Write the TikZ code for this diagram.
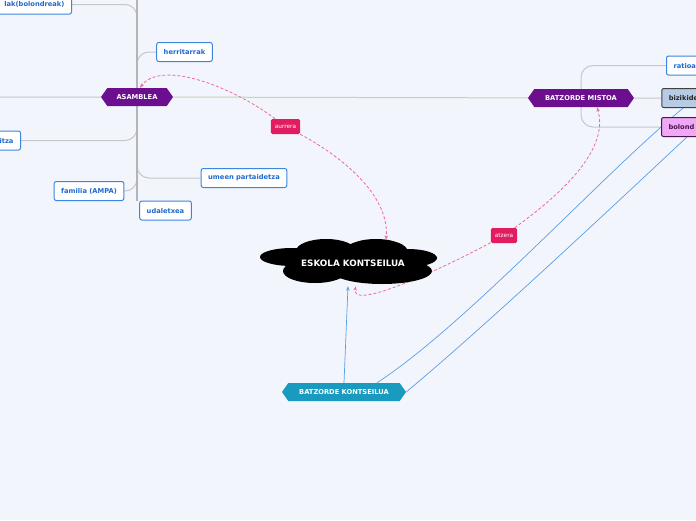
\documentclass[tikz,border=0pt]{standalone}
\usepackage{fontspec}
\setmainfont{DejaVu Sans}
\usepackage{tikz}
\usetikzlibrary{arrows.meta,positioning,calc,shapes.symbols}
\pgfdeclarelayer{back}
\pgfdeclarelayer{bg}
\pgfsetlayers{back,bg,main}
\usepackage{xcolor}
\definecolor{paper}{HTML}{F3F5FD}
\definecolor{boxblue}{HTML}{3A86E0}
\definecolor{textblue}{HTML}{1F6AD0}
\definecolor{purp}{HTML}{6B0F8F}
\definecolor{tealc}{HTML}{189BBF}
\definecolor{branchgray}{HTML}{C6C7CC}
\definecolor{trunkgray}{HTML}{B4B4B8}
\definecolor{greenline}{HTML}{C2D8B0}
\definecolor{wireblue}{HTML}{5A9EE8}
\definecolor{linkpink}{HTML}{EE6A9C}
\definecolor{tagred}{HTML}{E31C5F}
\definecolor{bizifill}{HTML}{B8CBE4}
\definecolor{bolofill}{HTML}{F0A8F6}
\definecolor{bolotext}{HTML}{4A1550}

\begin{document}
\begin{tikzpicture}[
  x=1pt, y=-1pt,
  font=\fontsize{6.7}{8}\selectfont\bfseries,
  box/.style={draw=boxblue, fill=white, rounded corners=2pt, line width=1pt, text=textblue, minimum height=19pt, inner xsep=7pt},
  hexa/.style={signal, signal to=east and west, signal pointer angle=110, fill=#1, text=white, minimum height=18pt, inner sep=0pt, font=\fontsize{6.7}{7}\selectfont\bfseries},
  branch/.style={draw=branchgray, line width=1pt, rounded corners=12pt},
  trunk/.style={draw=trunkgray, line width=2.5pt},
  link/.style={draw=linkpink, line width=0.8pt, dash pattern=on 3pt off 2pt, -{Stealth[length=4.5pt]}},
  tag/.style={fill=tagred, text=white, rounded corners=1.5pt, font=\fontsize{5.8}{6}\selectfont, minimum height=15pt, inner xsep=4pt},
  wire/.style={draw=wireblue, line width=0.7pt}
]
\useasboundingbox (0,0) rectangle (696,520);
\begin{pgfonlayer}{back}
\fill[paper] (0,0) rectangle (696,520);
\end{pgfonlayer}

\node[hexa=purp, minimum width=72pt] (asamblea) at (137,97) {ASAMBLEA};
\node[hexa=purp, minimum width=106pt] (mistoa) at (581,98) {BATZORDE MISTOA};
\node[hexa=tealc, minimum width=124pt] (kontseilua) at (344,392) {BATZORDE KONTSEILUA};

\node[box] (herritarrak) at (184.5,52) {herritarrak};
\node[box] (umeen) at (244,178) {umeen partaidetza};
\node[box] (familia) at (89,191) {familia (AMPA)};
\node[box] (udaletxea) at (165.5,210.5) {udaletxea};
\node[box, anchor=east, text width=88pt, align=right] (bolondreak) at (72,4.5) {lak(bolondreak)};
\node[box, anchor=east, text width=40pt, align=right] (itza) at (21,140.5) {itza};
\node[box, anchor=west, text width=40pt, align=left] (ratioa) at (666,65.5) {ratioa};
\node[box, right=27pt of mistoa, text width=40pt, align=left, fill=bizifill, draw=black!75, text=black!85] (bizikide) {bizikide};
\node[box, anchor=west, text width=40pt, align=left, fill=bolofill, draw=bolotext, text=bolotext] (bolond) at (661,127) {bolond};

\fill (326,251) ellipse [x radius=30, y radius=12];
\fill (376,252) ellipse [x radius=32, y radius=13];
\fill (292,257) ellipse [x radius=32, y radius=9];
\fill (408,258) ellipse [x radius=29, y radius=9];
\fill (315,271) ellipse [x radius=32, y radius=12];
\fill (382,271) ellipse [x radius=50, y radius=13];
\fill (348,261) ellipse [x radius=62, y radius=16];
\node[minimum width=177pt, minimum height=46pt, text=white, font=\fontsize{8.8}{10}\selectfont\bfseries] (eskola) at (353,263) {ESKOLA KONTSEILUA};

\node[tag] (aurrera) at (285.5,126.5) {aurrera};
\node[tag] (atzera) at (504,235.5) {atzera};

\coordinate (topend) at (137,0);
\coordinate (leftend) at (0,97);

\begin{pgfonlayer}{bg}
\draw[branch] (bolondreak.east) -| (asamblea);
\draw[branch] (herritarrak.west) -| (asamblea);
\draw[branch] (itza.east) -| (asamblea);
\draw[branch] (umeen.west) -| (asamblea);
\draw[branch] (familia.east) -| (asamblea);
\draw[branch] (asamblea) -- (leftend);
\draw[trunk] (topend) -- (topend |- udaletxea.north);
\draw[draw=greenline, line width=1pt] (asamblea) -- (mistoa);
\draw[branch] (ratioa.west) -| (mistoa);
\draw[branch] (bolond.west) -| (mistoa);
\draw[branch] (mistoa) -- (bizikide);

\draw[wire] ($(kontseilua.north)+(33,0)$) .. controls (467,324) and (603,174) .. ($(bizikide.south west)+(22,0)$);
\draw[wire] (kontseilua.east) .. controls (490,322) and (612,207) .. ($(bolond.south west)+(26,0)$);
\draw[wire, -{Stealth[length=4.5pt]}] (kontseilua.north) -- ($(eskola.south)+(-5,0)$);

\draw[link] (aurrera) .. controls (230,85) and (160,60) .. ($(asamblea.north)+(3,0)$);
\draw[link] (aurrera) .. controls (330,150) and (390,190) .. ($(eskola.north)+(33,0)$);
\draw[link] (atzera) .. controls (430,275) and (350,310) .. ($(eskola.south)+(3,0)$);
\draw[link] (atzera) .. controls (560,195) and (610,150) .. ($(mistoa.south)+(16,0)$);
\end{pgfonlayer}
\end{tikzpicture}
\end{document}
